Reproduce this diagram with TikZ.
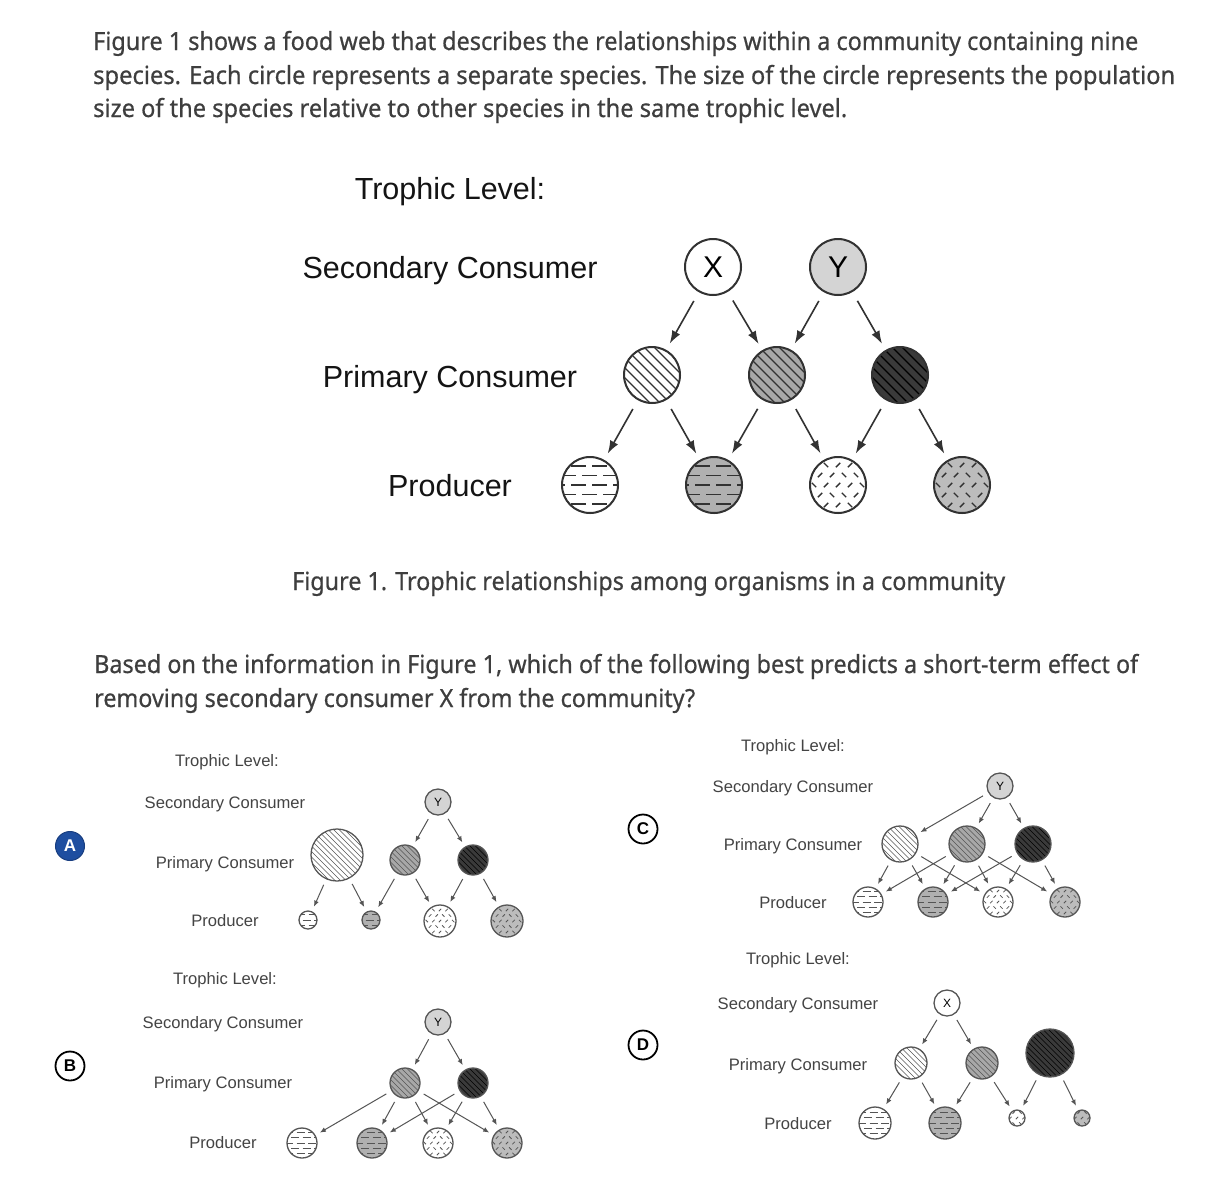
\documentclass[tikz,border=0pt]{standalone}
\usepackage{graphicx}
\usepackage{fontspec}
\setmainfont{Liberation Sans}
\newfontfamily\bodyfont[FakeBold=0.6]{Noto Sans}
\usetikzlibrary{arrows.meta}
\definecolor{txt}{RGB}{62,62,62}
\definecolor{stxt}{RGB}{68,68,68}
\definecolor{outl}{RGB}{50,50,50}
\definecolor{soutl}{RGB}{85,85,85}
\definecolor{yfill}{RGB}{212,212,212}
\definecolor{ptwo}{RGB}{168,168,168}
\definecolor{pthree}{RGB}{58,58,58}
\definecolor{prtwo}{RGB}{176,176,176}
\definecolor{prfour}{RGB}{188,188,188}
\definecolor{abadge}{RGB}{30,78,160}
\tikzset{
  lbl/.style={anchor=base, inner sep=0pt, font=\fontsize{30.5}{34}\selectfont, text=black!92},
  slbl/.style={anchor=base, inner sep=0pt, font=\fontsize{16.6}{19}\selectfont, text=stxt},
  body/.style={anchor=base west, inner sep=0pt, font=\bodyfont\fontsize{25}{30}\selectfont, text=txt},
  org/.style={circle, inner sep=0pt, minimum size=#1},
  mainorg/.style={draw=outl, line width=2pt},
  minorg/.style={draw=soutl, line width=1.3pt},
  hatch/.style 2 args={path picture={
    \foreach \k in {-9,...,9}{
      \draw[line width=#1*1.2pt, draw=#2, shift={(path picture bounding box.center)}]
        (\k*10*#1-60,-60) -- (\k*10*#1+60,60);
    }}},
  hdash/.style 2 args={path picture={
    \pgfmathsetmacro\dl{15*#1}\pgfmathsetmacro\dg{6*#1}
    \foreach \k in {-4,...,4}{
      \pgfmathsetmacro\ph{mod(abs(\k),2)*10*#1}
      \draw[line width=#1*1.8pt, draw=#2, dash pattern=on \dl pt off \dg pt, dash phase=\ph pt,
        shift={(path picture bounding box.center)}] (-40,\k*9.5*#1) -- (40,\k*9.5*#1);
    }}},
  sdash/.style 2 args={path picture={
    \foreach \i in {-4,...,4}{\foreach \j in {-4,...,4}{
      \pgfmathsetmacro\xx{(\i*12+mod(abs(\j),2)*6)*#1}
      \pgfmathsetmacro\yy{\j*10*#1}
      \pgfmathsetmacro\sg{ifthenelse(mod(abs(2*\i+\j),3)==1,-1,1)}
      \draw[line width=#1*1.4pt, draw=#2, shift={(path picture bounding box.center)}]
        (\xx-2.2*#1,\yy+2.2*#1*\sg) -- (\xx+2.2*#1,\yy-2.2*#1*\sg);
    }}}},
  arr/.style={-{Latex[length=13pt,width=9pt]}, line width=1.6pt, draw=outl, shorten <=10pt, shorten >=7pt},
  sarr/.style={-{Latex[length=6pt,width=5pt]}, line width=1pt, draw=soutl, shorten <=6pt, shorten >=5pt},
  badge/.style={circle, inner sep=0pt, minimum size=29pt, draw=black, line width=1.8pt, fill=white,
    font=\bfseries\fontsize{17}{17}\selectfont},
}
\begin{document}
\begin{tikzpicture}[x=1pt,y=-1pt]
\useasboundingbox (0,0) rectangle (1214,1200);
\fill[white] (0,0) rectangle (1214,1200);

% ---------- intro text ----------
\node[body] (t1) at (93,50) {\resizebox{1045pt}{\height}{Figure 1 shows a food web that describes the relationships within a community containing nine}};
\node[body] (t2) at (93,84) {\resizebox{1082pt}{\height}{species. Each circle represents a separate species. The size of the circle represents the population}};
\node[body] (t3) at (93,117) {\resizebox{754pt}{\height}{size of the species relative to other species in the same trophic level.}};

% ---------- main figure ----------
\node[lbl] (mtl) at (450,199) {Trophic Level:};
\node[lbl] (msc) at (450,278) {Secondary Consumer};
\node[lbl] (mpc) at (450,387) {Primary Consumer};
\node[lbl] (mpr) at (450,496) {Producer};

\node[org=56pt, mainorg, fill=white, font=\fontsize{30}{30}\selectfont] (mX) at (713,267) {X};
\node[org=56pt, mainorg, fill=yfill, font=\fontsize{30}{30}\selectfont] (mY) at (838,267) {Y};
\node[org=56pt, mainorg, fill=white, hatch={1}{outl}] (mP1) at (652,375) {};
\node[org=56pt, mainorg, fill=ptwo, hatch={1}{outl}] (mP2) at (777,375) {};
\node[org=56pt, mainorg, fill=pthree, hatch={1}{black}] (mP3) at (900,375) {};
\node[org=56pt, mainorg, fill=white, hdash={1}{outl}] (mR1) at (590,485) {};
\node[org=56pt, mainorg, fill=prtwo, hdash={1}{outl}] (mR2) at (714,485) {};
\node[org=56pt, mainorg, fill=white, sdash={1}{outl}] (mR3) at (838,485) {};
\node[org=56pt, mainorg, fill=prfour, sdash={1}{outl}] (mR4) at (962,485) {};

\draw[arr] (mX) -- (mP1);
\draw[arr] (mX) -- (mP2);
\draw[arr] (mY) -- (mP2);
\draw[arr] (mY) -- (mP3);
\draw[arr] (mP1) -- (mR1);
\draw[arr] (mP1) -- (mR2);
\draw[arr] (mP2) -- (mR2);
\draw[arr] (mP2) -- (mR3);
\draw[arr] (mP3) -- (mR3);
\draw[arr] (mP3) -- (mR4);

\node[body, anchor=base west] (cap) at (292,590) {\resizebox{713pt}{\height}{Figure 1. Trophic relationships among organisms in a community}};

% ---------- question ----------
\node[body] (q1) at (94,673) {\resizebox{1044pt}{\height}{Based on the information in Figure 1, which of the following best predicts a short-term effect of}};
\node[body] (q2) at (94,707) {\resizebox{601pt}{\height}{removing secondary consumer X from the community?}};

% ---------- option A ----------
\node[badge, fill=abadge, draw=abadge!80!black, line width=1pt, text=white] (bA) at (70,846) {A};
\node[slbl] (atl) at (227,766) {Trophic Level:};
\node[slbl] (asc) at (225,808) {Secondary Consumer};
\node[slbl] (apc) at (225,868) {Primary Consumer};
\node[slbl] (apr) at (225,926) {Producer};
\node[org=26pt, minorg, fill=yfill, font=\fontsize{12}{12}\selectfont] (aY) at (438,802) {Y};
\node[org=52pt, minorg, fill=white, hatch={0.55}{soutl}] (aP1) at (337,855) {};
\node[org=30pt, minorg, fill=ptwo, hatch={0.55}{soutl}] (aP2) at (405,860) {};
\node[org=30pt, minorg, fill=pthree, hatch={0.55}{black}] (aP3) at (473,860) {};
\node[org=18pt, minorg, fill=white, hdash={0.55}{soutl}] (aR1) at (308,920) {};
\node[org=18pt, minorg, fill=prtwo, hdash={0.55}{soutl}] (aR2) at (371,920) {};
\node[org=32pt, minorg, fill=white, sdash={0.55}{soutl}] (aR3) at (440,921) {};
\node[org=32pt, minorg, fill=prfour, sdash={0.55}{soutl}] (aR4) at (507,921) {};
\draw[sarr] (aY) -- (aP2);
\draw[sarr] (aY) -- (aP3);
\draw[sarr] (aP1) -- (aR1);
\draw[sarr] (aP1) -- (aR2);
\draw[sarr] (aP2) -- (aR2);
\draw[sarr] (aP2) -- (aR3);
\draw[sarr] (aP3) -- (aR3);
\draw[sarr] (aP3) -- (aR4);

% ---------- option B ----------
\node[badge] (bB) at (70,1066) {B};
\node[slbl] (btl) at (225,984) {Trophic Level:};
\node[slbl] (bsc) at (223,1028) {Secondary Consumer};
\node[slbl] (bpc) at (223,1088) {Primary Consumer};
\node[slbl] (bpr) at (223,1148) {Producer};
\node[org=26pt, minorg, fill=yfill, font=\fontsize{12}{12}\selectfont] (bY) at (438,1022) {Y};
\node[org=30pt, minorg, fill=ptwo, hatch={0.55}{soutl}] (bP2) at (405,1083) {};
\node[org=30pt, minorg, fill=pthree, hatch={0.55}{black}] (bP3) at (473,1083) {};
\node[org=30pt, minorg, fill=white, hdash={0.55}{soutl}] (bR1) at (302,1143) {};
\node[org=30pt, minorg, fill=prtwo, hdash={0.55}{soutl}] (bR2) at (372,1143) {};
\node[org=30pt, minorg, fill=white, sdash={0.55}{soutl}] (bR3) at (438,1143) {};
\node[org=30pt, minorg, fill=prfour, sdash={0.55}{soutl}] (bR4) at (507,1143) {};
\draw[sarr] (bY) -- (bP2);
\draw[sarr] (bY) -- (bP3);
\draw[sarr] (bP2) -- (bR1);
\draw[sarr] (bP2) -- (bR2);
\draw[sarr] (bP2) -- (bR3);
\draw[sarr] (bP2) -- (bR4);
\draw[sarr] (bP3) -- (bR2);
\draw[sarr] (bP3) -- (bR3);
\draw[sarr] (bP3) -- (bR4);

% ---------- option C ----------
\node[badge] (bC) at (643,829) {C};
\node[slbl] (ctl) at (793,751) {Trophic Level:};
\node[slbl] (csc) at (793,792) {Secondary Consumer};
\node[slbl] (cpc) at (793,850) {Primary Consumer};
\node[slbl] (cpr) at (793,908) {Producer};
\node[org=26pt, minorg, fill=yfill, font=\fontsize{12}{12}\selectfont] (cY) at (1000,786) {Y};
\node[org=36pt, minorg, fill=white, hatch={0.55}{soutl}] (cP1) at (900,844) {};
\node[org=36pt, minorg, fill=ptwo, hatch={0.55}{soutl}] (cP2) at (967,844) {};
\node[org=36pt, minorg, fill=pthree, hatch={0.55}{black}] (cP3) at (1033,844) {};
\node[org=30pt, minorg, fill=white, hdash={0.55}{soutl}] (cR1) at (868,902) {};
\node[org=30pt, minorg, fill=prtwo, hdash={0.55}{soutl}] (cR2) at (933,902) {};
\node[org=30pt, minorg, fill=white, sdash={0.55}{soutl}] (cR3) at (998,902) {};
\node[org=30pt, minorg, fill=prfour, sdash={0.55}{soutl}] (cR4) at (1065,902) {};
\draw[sarr] (cY) -- (cP1);
\draw[sarr] (cY) -- (cP2);
\draw[sarr] (cY) -- (cP3);
\draw[sarr] (cP1) -- (cR1);
\draw[sarr] (cP1) -- (cR2);
\draw[sarr] (cP1) -- (cR3);
\draw[sarr] (cP2) -- (cR1);
\draw[sarr] (cP2) -- (cR2);
\draw[sarr] (cP2) -- (cR3);
\draw[sarr] (cP2) -- (cR4);
\draw[sarr] (cP3) -- (cR2);
\draw[sarr] (cP3) -- (cR3);
\draw[sarr] (cP3) -- (cR4);

% ---------- option D ----------
\node[badge] (bD) at (643,1045) {D};
\node[slbl] (dtl) at (798,964) {Trophic Level:};
\node[slbl] (dsc) at (798,1009) {Secondary Consumer};
\node[slbl] (dpc) at (798,1070) {Primary Consumer};
\node[slbl] (dpr) at (798,1129) {Producer};
\node[org=26pt, minorg, fill=white, font=\fontsize{12}{12}\selectfont] (dX) at (947,1003) {X};
\node[org=32pt, minorg, fill=white, hatch={0.55}{soutl}] (dP1) at (911,1063) {};
\node[org=32pt, minorg, fill=ptwo, hatch={0.55}{soutl}] (dP2) at (982,1063) {};
\node[org=48pt, minorg, fill=pthree, hatch={0.55}{black}] (dP3) at (1050,1053) {};
\node[org=32pt, minorg, fill=white, hdash={0.55}{soutl}] (dR1) at (875,1123) {};
\node[org=32pt, minorg, fill=prtwo, hdash={0.55}{soutl}] (dR2) at (945,1123) {};
\node[org=16pt, minorg, fill=white, sdash={0.55}{soutl}] (dR3) at (1017,1118) {};
\node[org=16pt, minorg, fill=prfour, sdash={0.55}{soutl}] (dR4) at (1082,1118) {};
\draw[sarr] (dX) -- (dP1);
\draw[sarr] (dX) -- (dP2);
\draw[sarr] (dP1) -- (dR1);
\draw[sarr] (dP1) -- (dR2);
\draw[sarr] (dP2) -- (dR2);
\draw[sarr] (dP2) -- (dR3);
\draw[sarr] (dP3) -- (dR3);
\draw[sarr] (dP3) -- (dR4);
\end{tikzpicture}
\end{document}
